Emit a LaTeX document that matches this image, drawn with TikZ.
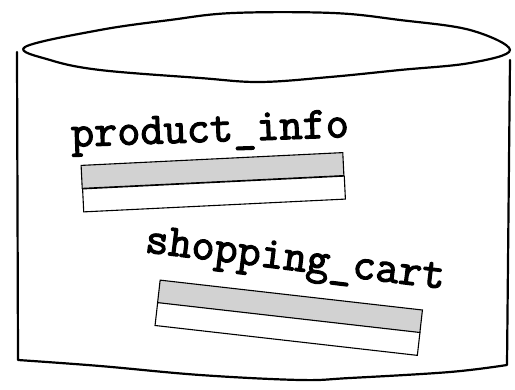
\documentclass[tikz,border=0pt]{standalone}
\usepackage{fontspec}
\newfontfamily\cartfont{Latin Modern Mono}[FakeBold=2.5]
\definecolor{cellgray}{HTML}{D2D2D2}

\begin{document}
\begin{tikzpicture}[x=1pt, y=-1pt,
  rim/.style={line width=2.2pt, line join=round, line cap=round},
  tname/.style={font=\cartfont\bfseries\fontsize{45}{45}\selectfont, inner sep=0pt},
  cell/.style={draw, line width=1.1pt, inner sep=0pt, minimum height=23pt}]

% Frame
\useasboundingbox (0,0) rectangle (515,390);

% Top of the cylinder
\draw[rim] plot[smooth cycle, tension=0.6] coordinates {
    (25,47) (100,30) (170,20) (233,13) (333,13) (400,20) (470,30)
    (510,50) (470,63) (400,70) (330,77) (260,82) (200,78) (100,70) (50,60)};

% Sides and bottom
\draw[rim] (17,52) -- (18,360)
    plot[smooth, tension=0.6] coordinates {(18,360) (100,366) (200,375)
    (300,380) (350,378) (450,372) (507,365)} -- (510,60);

% Table product_info
\def\wA{262}  % bar length
\def\aA{2.8}  % bar tilt
\node[tname, rotate=2] (pi) at (210,133) {product\_info};
\node[cell, fill=cellgray, minimum width=\wA, rotate=\aA] (piTop) at (212.5,170.5) {};
\node[cell, fill=white, minimum width=\wA, rotate=\aA] (piBot) at (214,194) {};

% Table shopping_cart
\def\wB{264}
\def\aB{-6.5}
\node[tname, rotate=-7] (sc) at (295,262) {shopping\_cart};
\node[cell, fill=cellgray, minimum width=\wB, rotate=\aB] (scTop) at (290,306.5) {};
\node[cell, fill=white, minimum width=\wB, rotate=\aB] (scBot) at (287.5,329) {};

\end{tikzpicture}
\end{document}
